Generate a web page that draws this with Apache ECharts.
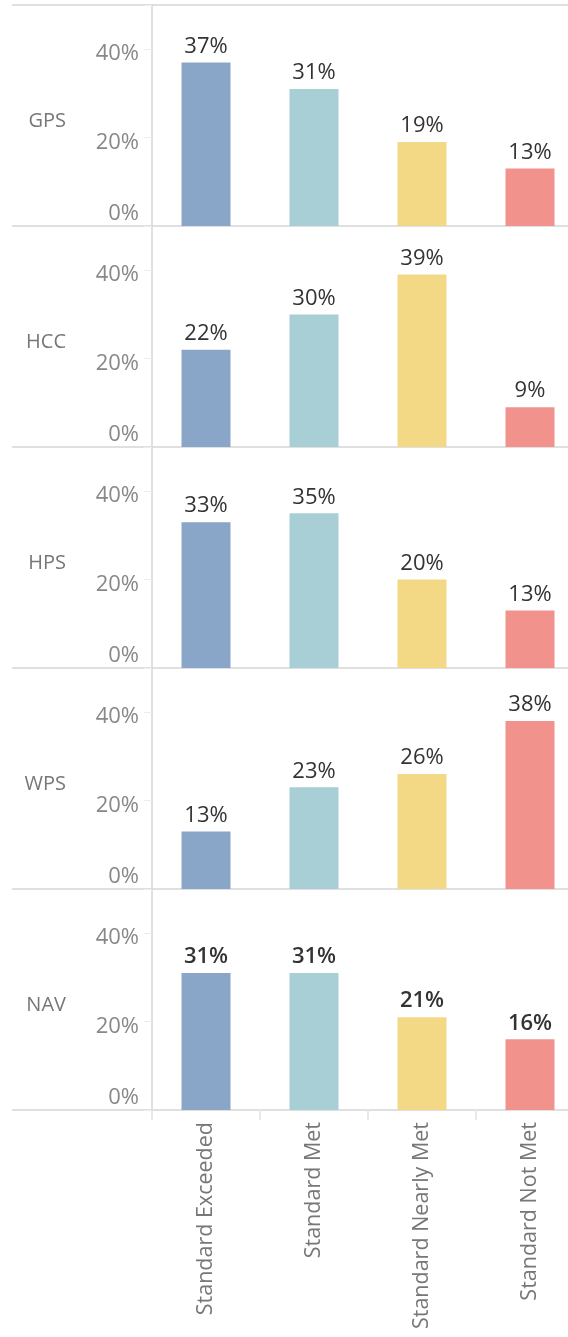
<!DOCTYPE html>
<html>
<head>
<meta charset="utf-8">
<script src="https://cdn.jsdelivr.net/npm/echarts@6/dist/echarts.min.js"></script>
<style>
html, body { margin: 0; padding: 0; background: #fff; }
#main { width: 568px; height: 1337px; }
</style>
</head>
<body>
<div id="main"></div>
<script>
// data
var rows = ['GPS', 'HCC', 'HPS', 'WPS', 'NAV'];
var categories = ['Standard Exceeded', 'Standard Met', 'Standard Nearly Met', 'Standard Not Met'];
var gpsValues = [37, 31, 19, 13];
var hccValues = [22, 30, 39, 9];
var hpsValues = [33, 35, 20, 13];
var wpsValues = [13, 23, 26, 38];
var navValues = [31, 31, 21, 16];
var yTicks = [0, 20, 40];

var allValues = [gpsValues, hccValues, hpsValues, wpsValues, navValues];
var colors = ['#89a5c8', '#a8cfd5', '#f3d886', '#f1928d'];

// layout
var top0 = 5;
var panelH = 221;
var plotLeft = 152;
var catW = 108; //最后一列超出画面
var font = 'Open Sans';

var myChart = echarts.init(document.getElementById('main'));

var grids = [];
var xAxes = [];
var yAxes = [];
var series = [];

//背景上的横线(每一行的分隔线)
grids.push({ left: 12, right: 0, top: top0, height: panelH * rows.length, outerBoundsMode: 'none' });
xAxes.push({ type: 'value', show: false, gridIndex: 0 });
yAxes.push({
	type: 'value', gridIndex: 0, min: 0, max: rows.length, interval: 1,
	axisLine: { show: false }, axisTick: { show: false }, axisLabel: { show: false },
	splitLine: { show: true, lineStyle: { color: '#d6d6d6', width: 1.5 } }
});

rows.forEach(function(name, i) {
	var g = i + 1;
	var last = i === rows.length - 1;
	grids.push({
		left: plotLeft, width: catW * categories.length,
		top: top0 + i * panelH, height: panelH,
		outerBoundsMode: 'none'
	});
	xAxes.push({
		type: 'category',
		gridIndex: g,
		data: categories,
		axisLine: { show: false },
		axisTick: { show: last, length: 10, lineStyle: { color: '#e8e8e8', width: 2 } },
		axisLabel: {
			show: last,
			rotate: 90,
			margin: 12,
			color: '#777',
			fontSize: 21.5,
			fontFamily: font
		}
	});
	yAxes.push({
		type: 'value',
		gridIndex: g,
		min: 0,
		max: 50,
		interval: 20,
		name: '{n|' + name + '}',
		nameLocation: 'middle',
		nameRotate: 0,
		nameGap: 86,
		nameTextStyle: {
			color: '#777', fontSize: 20, fontFamily: font,
			align: 'right', verticalAlign: 'middle',
			rich: { n: { color: '#777', fontSize: 20, fontFamily: font, padding: [12, 0, 0, 0] } }
		},
		axisLine: { show: true, lineStyle: { color: '#d6d6d6', width: 1.5 } },
		axisTick: { show: true, length: 8, lineStyle: { color: '#ececec' } },
		splitLine: { show: false },
		axisLabel: {
			margin: 13,
			color: '#888',
			fontSize: 22,
			fontFamily: font,
			formatter: function(v) {
				if (v === 0) return '{z|0%}';
				return yTicks.indexOf(v) >= 0 ? '{a|' + v + '%}' : '';
			},
			rich: {
				a: { color: '#888', fontSize: 22, fontFamily: font, padding: [10, 0, 0, 0] },
				z: { color: '#888', fontSize: 22, fontFamily: font, padding: [0, 0, 24, 0] }
			}
		}
	});
	series.push({
		name: name,
		type: 'bar',
		xAxisIndex: g,
		yAxisIndex: g,
		barWidth: 49,
		data: allValues[i].map(function(v, j) {
			return { value: v, itemStyle: { color: colors[j] } };
		}),
		label: {
			show: true,
			position: 'top',
			distance: 5,
			formatter: '{c}%',
			color: '#333',
			fontSize: 22,
			fontFamily: font,
			fontWeight: last ? 600 : 'normal'
		}
	});
});

var option = {
	animation: false,
	backgroundColor: '#fff',
	grid: grids,
	xAxis: xAxes,
	yAxis: yAxes,
	series: series
};
myChart.setOption(option);
</script>
</body>
</html>
